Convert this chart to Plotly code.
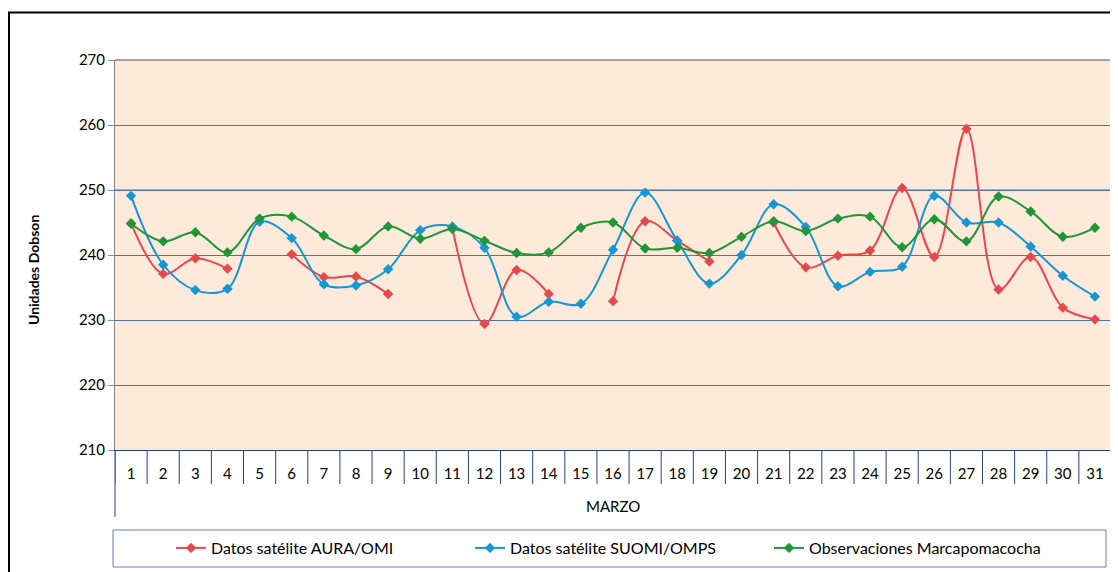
import plotly.graph_objects as go

dias = [str(d) for d in range(1, 32)]

aura_omi = [244.9, 237.1, 239.5, 237.9, None, 240.1, 236.6, 236.7, 234.0, None,
            244.2, 229.4, 237.7, 234.0, None, 232.9, 245.2, 242.2, 239.0, None,
            245.0, 238.1, 239.9, 240.7, 250.3, 239.7, 259.4, 234.7, 239.7, 231.9, 230.1]

suomi_omps = [249.1, 238.5, 234.6, 234.8, 245.1, 242.6, 235.5, 235.3, 237.8, 243.8,
              244.4, 241.1, 230.5, 232.8, 232.5, 240.8, 249.6, 242.2, 235.6, 240.0,
              247.8, 244.3, 235.2, 237.4, 238.2, 249.1, 245.0, 245.0, 241.3, 236.8, 233.6]

marcapomacocha = [244.8, 242.1, 243.5, 240.4, 245.6, 245.9, 243.0, 240.9, 244.4, 242.5,
                  244.0, 242.2, 240.3, 240.4, 244.2, 245.0, 241.0, 241.1, 240.3, 242.8,
                  245.2, 243.7, 245.6, 245.9, 241.2, 245.5, 242.1, 249.0, 246.7, 242.8, 244.2]

series_names = ["Datos satélite AURA/OMI", "Datos satélite SUOMI/OMPS", "Observaciones Marcapomacocha"]
series_colors = ["#E8484C", "#1796D6", "#1F9637"]

# page is offset by the default 8px body margin
OFF = 8
W, H = 1118, 572
P_L, P_R, P_T, P_B = 115, 1111, 60, 450  # plot area in page coordinates
L, T = P_L - OFF, P_T - OFF
R, B = W - (P_R - OFF), H - (P_B - OFF)
PW, PH = P_R - P_L, P_B - P_T


def px(x):
    return (x - P_L) / PW


def py(y):
    return (P_B - y) / PH


FONT = "Lato"
AXIS_BLUE = "#27408B"

fig = go.Figure()
for name, vals, col in zip(series_names, [aura_omi, suomi_omps, marcapomacocha], series_colors):
    fig.add_trace(go.Scatter(
        x=dias, y=vals, name=name, mode="lines+markers",
        line=dict(color=col, width=2, shape="spline", smoothing=1.0),
        marker=dict(symbol="diamond", size=8, color=col),
        connectgaps=False,
    ))

fig.update_layout(
    width=W, height=H,
    margin=dict(l=L, r=R, t=T, b=B),
    paper_bgcolor="white",
    plot_bgcolor="#FDEADB",
    font=dict(family=FONT, size=15, color="#000000"),
    showlegend=True,
    legend=dict(orientation="h", x=px(171), xanchor="left", y=py(548), yanchor="middle",
                bgcolor="rgba(0,0,0,0)", font=dict(family=FONT, size=16, color="#000000"),
                entrywidth=254, entrywidthmode="pixels", itemwidth=30),
    xaxis=dict(
        type="category", categoryorder="array", categoryarray=dias,
        ticks="", ticklabelstandoff=10,
        showline=True, linecolor=AXIS_BLUE, linewidth=1,
        showgrid=False, zeroline=False,
        tickfont=dict(family=FONT, size=15, color="#000000"),
        range=[-0.5, 30.5],
    ),
    yaxis=dict(
        range=[210, 270], dtick=10, tick0=210,
        showgrid=True, gridcolor="#4A76AC", gridwidth=1,
        ticks="outside", ticklen=6, tickcolor="#7F8FA6",
        showline=True, linecolor="#868686", linewidth=1,
        zeroline=False,
        tickfont=dict(family=FONT, size=15, color="#000000"),
    ),
)

shapes = []
# category boundary tick lines below the axis
for i in range(len(dias) + 1):
    shapes.append(dict(type="line", xref="x", yref="paper", x0=i - 0.5, x1=i - 0.5,
                       y0=py(484), y1=0, line=dict(color=AXIS_BLUE, width=1)))
# lighter, thicker 250 gridline as in reference
shapes.append(dict(type="line", xref="paper", yref="y", x0=0, x1=1, y0=250, y1=250,
                   line=dict(color="#9DB2C9", width=2), layer="between"))
# plot area top and right border
shapes.append(dict(type="line", xref="paper", yref="paper", x0=0, x1=1, y0=1, y1=1,
                   line=dict(color="#868686", width=1.5)))
shapes.append(dict(type="line", xref="paper", yref="paper", x0=1, x1=1, y0=py(517), y1=1,
                   line=dict(color="#6E6E6E", width=1.5)))
# left axis extension below category axis
shapes.append(dict(type="line", xref="paper", yref="paper", x0=0, x1=0, y0=py(517), y1=0,
                   line=dict(color=AXIS_BLUE, width=1)))
# legend box
shapes.append(dict(type="rect", xref="paper", yref="paper", x0=px(113), x1=px(1106),
                   y0=py(567), y1=py(530), line=dict(color="#6A7CB0", width=1)))
# outer chart border
shapes.append(dict(type="rect", xref="paper", yref="paper", x0=px(9), x1=px(1140),
                   y0=py(620), y1=py(12.5), line=dict(color="#000000", width=2)))
fig.update_layout(shapes=shapes)

fig.add_annotation(text="MARZO", xref="paper", yref="paper", x=0.5, y=py(506),
                   showarrow=False, font=dict(family=FONT, size=15, color="#000000"),
                   xanchor="center", yanchor="middle")
fig.add_annotation(text="<b>Unidades Dobson</b>", xref="paper", yref="paper", x=px(33), y=py(270),
                   showarrow=False, textangle=-90, font=dict(family=FONT, size=14, color="#000000"),
                   xanchor="center", yanchor="middle")

fig.write_html("out.html")
